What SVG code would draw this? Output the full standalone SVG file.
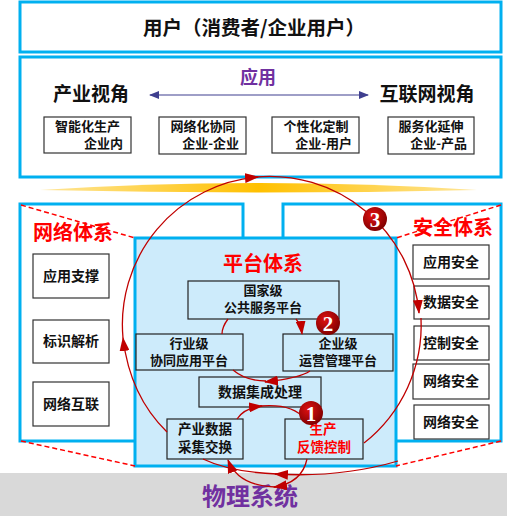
<svg xmlns="http://www.w3.org/2000/svg" width="507" height="516" viewBox="0 0 507 516">
<style>
.blue{fill:#fff;stroke:#00B0F0;stroke-width:3}
.plat{fill:#CDEBFB;stroke:#00B0F0;stroke-width:3}
.node{fill:#fff;stroke:#333;stroke-width:1.2}
.pnode{fill:#CDEBFB;stroke:#222;stroke-width:1.2}
.t{font-family:"Noto Sans CJK SC","Noto Sans",sans-serif;font-weight:bold;fill:#111;text-anchor:middle}
.e{text-anchor:end}
.red{fill:#FF0000}
.pur{fill:#7030A0}
.dash{stroke:#FF0000;stroke-width:1.5;stroke-dasharray:5 3;fill:none}
.arc{fill:none;stroke:#C00000;stroke-width:1.3}
.num{font-family:"Liberation Serif",serif;font-weight:bold;font-size:21px;fill:#fff;text-anchor:middle}
</style>
<defs>
<marker id="ar" viewBox="0 0 14 10" refX="13" refY="5" markerWidth="14" markerHeight="10" orient="auto" markerUnits="userSpaceOnUse"><path d="M0,0 L14,5 L0,10 z" fill="#C00000"/></marker>
<marker id="nv" viewBox="0 0 10 8" refX="9" refY="4" markerWidth="10" markerHeight="8" orient="auto-start-reverse" markerUnits="userSpaceOnUse"><path d="M0,0 L10,4 L0,8 z" fill="#3F3F8F"/></marker>
<linearGradient id="gold" x1="0" x2="1" y1="0" y2="0"><stop offset="0" stop-color="#FFE699"/><stop offset="0.5" stop-color="#FFC000"/><stop offset="1" stop-color="#FFE699"/></linearGradient>
<radialGradient id="ball" cx="0.4" cy="0.35" r="0.7"><stop offset="0" stop-color="#E01010"/><stop offset="1" stop-color="#7A0000"/></radialGradient>
</defs>

<g id="physical">
<rect x="0" y="473" width="507" height="43" fill="#D9D9D9"/>
<text class="t pur" x="250" y="505" font-size="24">物理系统</text>
</g>

<g id="user">
<rect class="blue" x="20" y="2" width="481" height="50"/>
<text class="t" x="254" y="35" font-size="19.5">用户（消费者/企业用户）</text>
</g>

<g id="application">
<rect class="blue" x="20" y="57" width="481" height="120"/>
<text class="t pur" x="258" y="84" font-size="18">应用</text>
<text class="t" x="91" y="101" font-size="19">产业视角</text>
<text class="t" x="427" y="101" font-size="19">互联网视角</text>
<line x1="150" y1="95" x2="368" y2="95" stroke="#3F3F8F" stroke-width="1.2" marker-start="url(#nv)" marker-end="url(#nv)"/>
<g id="app1"><rect class="node" x="44" y="117" width="87" height="36"/><text class="t" x="87.5" y="131" font-size="13">智能化生产</text><text class="t e" x="123" y="148" font-size="13">企业内</text></g>
<g id="app2"><rect class="node" x="159" y="117" width="87" height="37"/><text class="t" x="203" y="131" font-size="13">网络化协同</text><text class="t e" x="239" y="148" font-size="13">企业-企业</text></g>
<g id="app3"><rect class="node" x="272" y="117" width="87" height="36"/><text class="t" x="316" y="131" font-size="13">个性化定制</text><text class="t e" x="352" y="148" font-size="13">企业-用户</text></g>
<g id="app4"><rect class="node" x="388" y="117" width="86" height="37"/><text class="t" x="431" y="131" font-size="13">服务化延伸</text><text class="t e" x="467" y="148" font-size="13">企业-产品</text></g>
</g>

<path id="goldline" d="M40,190 Q260,176 477,190 Q260,195 40,190 Z" fill="url(#gold)"/>

<g id="network">
<rect class="blue" x="20" y="204" width="223" height="237"/>
<text class="t red" x="73" y="240" font-size="20">网络体系</text>
<g id="net1"><rect class="node" x="33" y="254" width="76" height="44"/><text class="t" x="71" y="281" font-size="14">应用支撑</text></g>
<g id="net2"><rect class="node" x="33" y="320" width="76" height="43"/><text class="t" x="71" y="346" font-size="14">标识解析</text></g>
<g id="net3"><rect class="node" x="33" y="382" width="76" height="44"/><text class="t" x="71" y="409" font-size="14">网络互联</text></g>
</g>

<g id="security">
<rect class="blue" x="283" y="204" width="218" height="237"/>
<text class="t red" x="453" y="235" font-size="20">安全体系</text>
<g id="sec1"><rect class="node" x="413" y="245" width="76" height="34"/><text class="t" x="451" y="267" font-size="14">应用安全</text></g>
<g id="sec2"><rect class="node" x="414" y="286" width="75" height="33"/><text class="t" x="451" y="307" font-size="14">数据安全</text></g>
<g id="sec3"><rect class="node" x="414" y="326" width="75" height="34"/><text class="t" x="451" y="348" font-size="14">控制安全</text></g>
<g id="sec4"><rect class="node" x="413" y="364" width="76" height="35"/><text class="t" x="451" y="386" font-size="14">网络安全</text></g>
<g id="sec5"><rect class="node" x="414" y="405" width="75" height="34"/><text class="t" x="451" y="427" font-size="14">网络安全</text></g>
</g>

<g id="platform">
<rect class="plat" x="135" y="238" width="261" height="228"/>
<text class="t red" x="263" y="271" font-size="20">平台体系</text>
<g id="p-national"><rect class="pnode" x="188" y="281" width="151" height="38"/><text class="t" x="263" y="295" font-size="13">国家级</text><text class="t" x="263" y="312" font-size="13">公共服务平台</text></g>
<g id="p-industry"><rect class="pnode" x="136" y="334" width="107" height="36"/><text class="t" x="189" y="348" font-size="13">行业级</text><text class="t" x="189" y="365" font-size="13">协同应用平台</text></g>
<g id="p-enterprise"><rect class="pnode" x="283" y="334" width="110" height="37"/><text class="t" x="338" y="348" font-size="13">企业级</text><text class="t" x="338" y="365" font-size="13">运营管理平台</text></g>
<g id="p-data"><rect class="pnode" x="199" y="377" width="122" height="30"/><text class="t" x="260" y="397" font-size="14">数据集成处理</text></g>
<g id="p-collect"><rect class="pnode" x="167" y="419" width="76" height="40"/><text class="t" x="205" y="434" font-size="13.5">产业数据</text><text class="t" x="205" y="452" font-size="13.5">采集交换</text></g>
<g id="p-feedback"><rect class="pnode" x="285" y="419" width="78" height="40"/><text class="t red" x="323" y="434" font-size="13.5">生产</text><text class="t red" x="324" y="452" font-size="13.5">反馈控制</text></g>
</g>

<g id="dashes">
<line class="dash" x1="21" y1="205" x2="135" y2="238"/>
<line class="dash" x1="501" y1="205" x2="396" y2="238"/>
<line class="dash" x1="21" y1="441" x2="135" y2="466"/>
<line class="dash" x1="501" y1="441" x2="396" y2="466"/>
</g>

<g id="connectors">
<path class="arc" d="M167,432 Q130,396 123,338" marker-end="url(#ar)"/>
<path class="arc" d="M123,338 A148,148 0 0 1 258,177" marker-end="url(#ar)"/>
<path class="arc" d="M256,177 A150,150 0 0 1 419,313" marker-end="url(#ar)"/>
<path class="arc" d="M421,318 A150,150 0 0 1 364,443"/>
<path class="arc" d="M398,461 Q340,478 275,474" marker-end="url(#ar)"/>
<path class="arc" d="M277,474 Q230,472 203,459"/>
<path class="arc" d="M307,459 Q302,483 274,487" marker-end="url(#ar)"/>
<path class="arc" d="M276,487 Q238,486 228,460" marker-end="url(#ar)"/>
<path class="arc" d="M237,419 Q244,408 262,406" marker-end="url(#ar)"/>
<path class="arc" d="M260,406 Q292,403 305,419"/>
<path class="arc" d="M228,319 Q222,327 222,334"/>
<path class="arc" d="M296,319 Q301,325 302,334" marker-end="url(#ar)"/>
<path class="arc" d="M233,370 Q246,381 266,381"/>
<path class="arc" d="M310,371 Q300,378 265,382" marker-end="url(#ar)"/>
</g>

<g id="badges">
<g id="b1"><circle cx="311" cy="413" r="12" fill="url(#ball)"/><text class="num" x="311" y="420.5">1</text></g>
<g id="b2"><circle cx="328" cy="323" r="12" fill="url(#ball)"/><text class="num" x="328" y="330.5">2</text></g>
<g id="b3"><circle cx="375" cy="219" r="12" fill="url(#ball)"/><text class="num" x="375" y="226.5">3</text></g>
</g>
</svg>
